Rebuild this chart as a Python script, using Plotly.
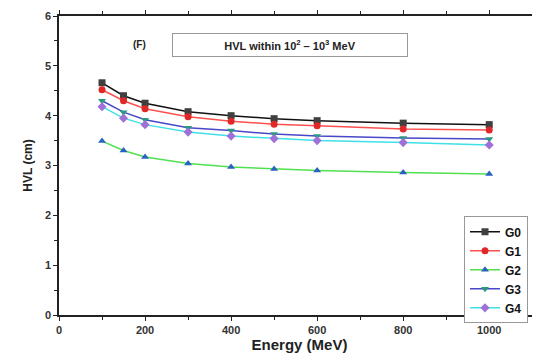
import plotly.graph_objects as go

energy = [100, 150, 200, 300, 400, 500, 600, 800, 1000]
g0 = [4.66, 4.40, 4.25, 4.08, 4.00, 3.94, 3.90, 3.85, 3.82]
g1 = [4.52, 4.30, 4.14, 3.98, 3.89, 3.83, 3.80, 3.73, 3.71]
g2 = [3.49, 3.30, 3.17, 3.04, 2.97, 2.93, 2.90, 2.86, 2.83]
g3 = [4.30, 4.07, 3.92, 3.76, 3.70, 3.63, 3.59, 3.55, 3.53]
g4 = [4.18, 3.95, 3.82, 3.67, 3.59, 3.54, 3.50, 3.46, 3.41]
names = ["G0", "G1", "G2", "G3", "G4"]
x_ticks = [0, 200, 400, 600, 800, 1000]
y_ticks = [0, 1, 2, 3, 4, 5, 6]

series = [g0, g1, g2, g3, g4]
line_colors = ["#111111", "#ff5050", "#50e050", "#4848c8", "#40e0e8"]
marker_colors = ["#404040", "#e02828", "#2a62c0", "#2a9a80", "#a070d8"]
symbols = ["square", "circle", "triangle-up", "triangle-down", "diamond"]

fig = go.Figure()
for name, ys, lc, mc, sym in zip(names, series, line_colors, marker_colors, symbols):
    fig.add_trace(go.Scatter(
        x=energy, y=ys, name="<b>" + name + "</b>", mode="lines+markers",
        line=dict(color=lc, width=1.5),
        marker=dict(color=mc, symbol=sym, size=7, line=dict(width=0)),
    ))

# page body has an 8px default margin, so the figure is sized to fit the window
fig.update_layout(
    width=532, height=355,
    margin=dict(l=51, r=0, t=8, b=48),
    paper_bgcolor="white", plot_bgcolor="white",
    font=dict(family="Arial, Liberation Sans", color="#222"),
    showlegend=True,
    legend=dict(
        x=0.842, y=0.33, xanchor="left", yanchor="top",
        bordercolor="#999", borderwidth=1, bgcolor="white",
        font=dict(size=12, color="#111"),
        itemwidth=30, tracegroupgap=0,
    ),
    xaxis=dict(
        range=[0, 1118], tickmode="array", tickvals=x_ticks,
        ticktext=["<b>%d</b>" % v for v in x_ticks], automargin=False,
        showgrid=False, zeroline=False, showline=True, linecolor="#222", linewidth=1.5,
        mirror="ticks", ticks="outside", ticklen=4, tickcolor="#222",
        minor=dict(ticks="outside", ticklen=3, dtick=100, tickcolor="#222"),
        tickfont=dict(size=11, color="#333"),
        title=dict(text="<b>Energy (MeV)</b>", font=dict(size=15, color="#222"), standoff=4),
    ),
    yaxis=dict(
        range=[0, 6], tickmode="array", tickvals=y_ticks,
        ticktext=["<b>%d</b>" % v for v in y_ticks], automargin=False,
        showgrid=False, zeroline=False, showline=True, linecolor="#222", linewidth=1.5,
        mirror="ticks", ticks="outside", ticklen=4, tickcolor="#222",
        minor=dict(ticks="outside", ticklen=3, dtick=0.5, tickcolor="#222"),
        tickfont=dict(size=11, color="#333"),
        title=dict(text="<b>HVL (cm)</b>", font=dict(size=12, color="#222"), standoff=10),
    ),
)

fig.add_annotation(x=188, y=5.42, xref="x", yref="y", text="<b>(F)</b>",
                   showarrow=False, font=dict(size=10, color="#222"))
fig.add_annotation(x=536, y=5.42, xref="x", yref="y",
                   text="<b>HVL within 10<sup>2</sup> – 10<sup>3</sup> MeV</b>",
                   showarrow=False, font=dict(size=11, color="#222"),
                   bordercolor="#999", borderwidth=1, borderpad=4,
                   width=226, bgcolor="white")

fig.write_html("out.html")
